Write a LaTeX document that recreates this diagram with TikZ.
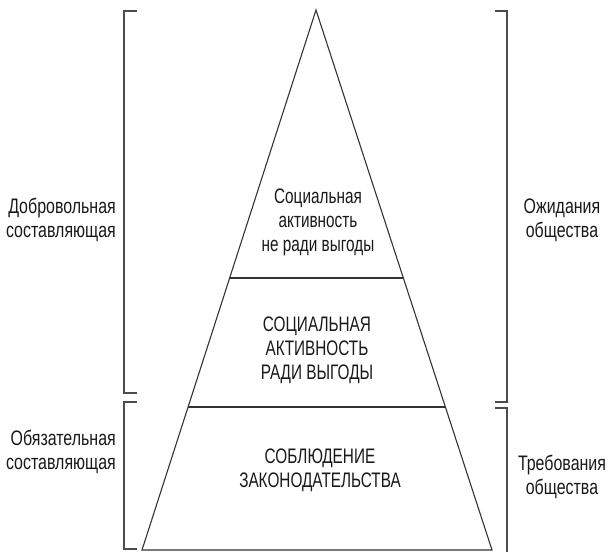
\documentclass[tikz,border=0pt]{standalone}
\usepackage{fontspec}
\setmainfont[FakeStretch=0.73]{Liberation Sans}
\newfontfamily\sidefont[FakeStretch=0.76]{Liberation Sans}
\usetikzlibrary{calc}
\begin{document}
\begin{tikzpicture}[x=1pt,y=-1pt,
  txt/.style={font=\fontsize{21}{24}\selectfont, text=black!90, inner sep=0pt, align=center},
  stxt/.style={txt, font=\fontsize{21}{24}\sidefont},
  ltxt/.style={stxt, align=right, anchor=east},
  edge/.style={draw=black!80, line width=1.1pt, line join=miter},
  brk/.style={draw=black!70, line width=1.3pt}]
\useasboundingbox (0,0) rectangle (608,552);
\coordinate (apex) at (316,10);
\coordinate (bl) at (142,550);
\coordinate (br) at (492,550);
\draw[edge] (apex) -- (br) -- (bl) -- cycle;
\coordinate (m1l) at ($(apex)!0.4963!(bl)$);
\coordinate (m1r) at ($(apex)!0.4963!(br)$);
\coordinate (m2l) at ($(apex)!0.7352!(bl)$);
\coordinate (m2r) at ($(apex)!0.7352!(br)$);
\draw[edge] (m1l) -- (m1r);
\draw[edge] (m2l) -- (m2r);
% brackets
\coordinate (lu1) at (137,11); \coordinate (lu2) at (124,11);
\coordinate (lu3) at (124,393); \coordinate (lu4) at (137,393);
\draw[brk] (lu1) -- (lu2) -- (lu3) -- (lu4);
\coordinate (ll1) at (137,402); \coordinate (ll2) at (124,402);
\coordinate (ll3) at (124,549); \coordinate (ll4) at (137,549);
\draw[brk] (ll1) -- (ll2) -- (ll3) -- (ll4);
\coordinate (ru1) at (495,11); \coordinate (ru2) at (507,11);
\coordinate (ru3) at (507,402); \coordinate (ru4) at (495,402);
\draw[brk] (ru1) -- (ru2) -- (ru3) -- (ru4);
\coordinate (rl1) at (495,408); \coordinate (rl2) at (507,408);
\coordinate (rl3) at (507,552);
\draw[brk] (rl1) -- (rl2) -- (rl3);
% pyramid texts
\node[txt] (t1) at (318,222) {Социальная\\активность\\не ради выгоды};
\node[txt] (t2) at (317,350) {СОЦИАЛЬНАЯ\\АКТИВНОСТЬ\\РАДИ ВЫГОДЫ};
\node[txt] (t3) at (320,470) {СОБЛЮДЕНИЕ\\ЗАКОНОДАТЕЛЬСТВА};
% side texts
\node[ltxt] (l1) at (116,220) {Добровольная\\составляющая};
\node[ltxt] (l2) at (116,452) {Обязательная\\составляющая};
\node[stxt] (r1) at (562,220) {Ожидания\\общества};
\node[stxt] (r2) at (562,477) {Требования\\общества};
\end{tikzpicture}
\end{document}
